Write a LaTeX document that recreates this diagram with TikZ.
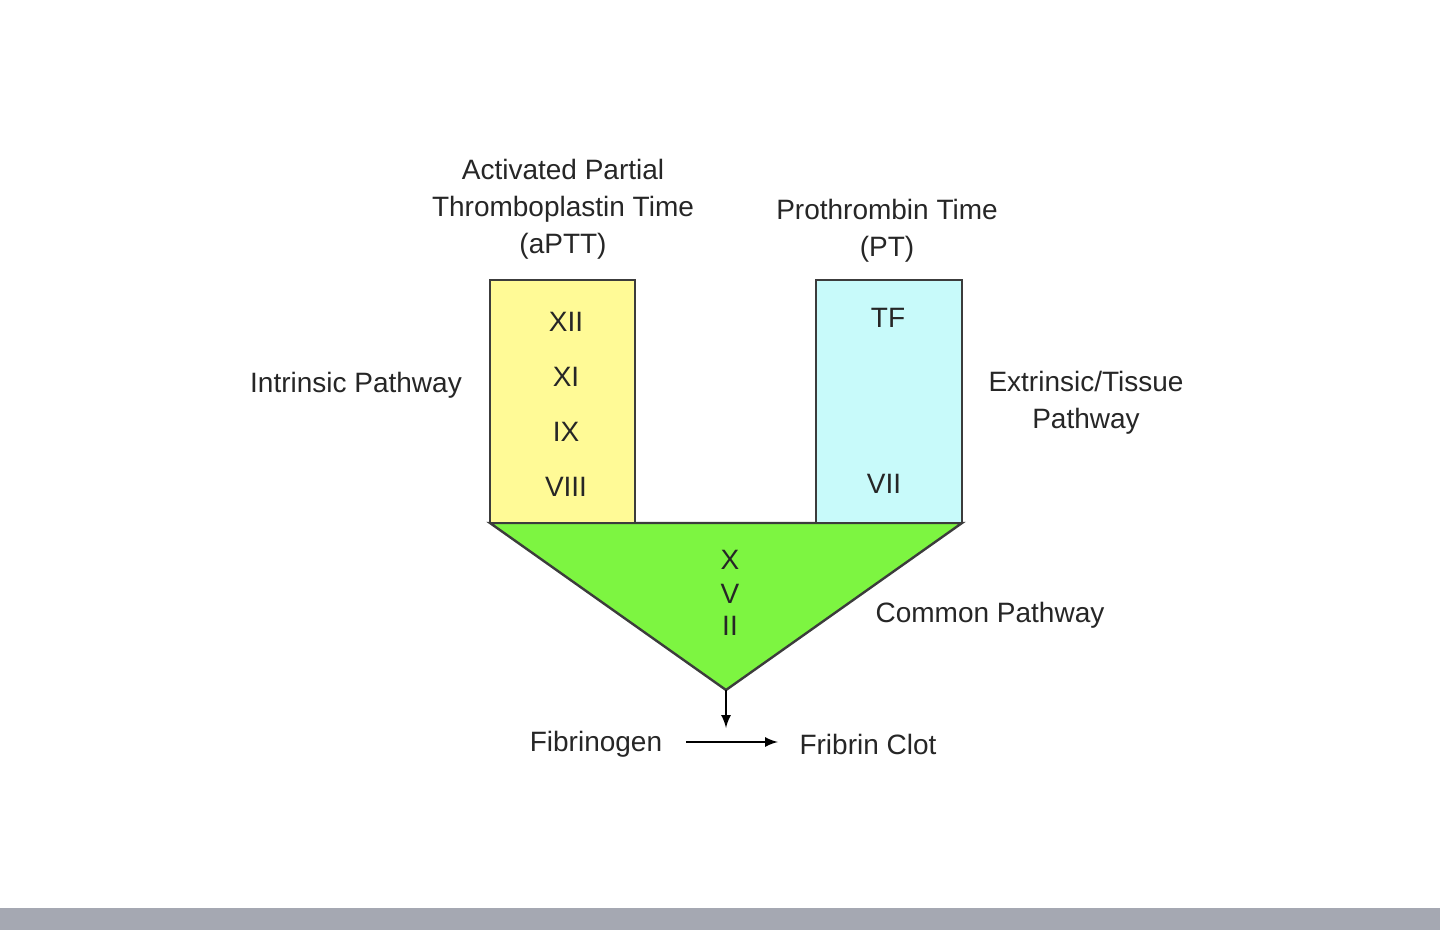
\documentclass[tikz,border=0pt]{standalone}
\usepackage{fontspec}
\setmainfont{Liberation Sans}
\definecolor{yel}{RGB}{255,250,150}
\definecolor{blu}{RGB}{200,250,250}
\definecolor{grn}{RGB}{125,245,65}
\definecolor{edge}{RGB}{60,60,60}
\definecolor{bar}{RGB}{165,168,178}
\begin{document}
\begin{tikzpicture}[x=0.5pt,y=-0.5pt,
  lbl/.style={font=\fontsize{14}{18.5}\selectfont,align=center,text=black!85},
  shp/.style={draw=edge,line width=1.2pt}]
\useasboundingbox (0,0) rectangle (1440,930);
\fill[bar] (0,908) rectangle (1440,930);
\coordinate (tip) at (726,690);
\filldraw[shp,fill=grn] (490,523) -- (962,523) -- (tip) -- cycle;
\filldraw[shp,fill=yel] (490,523) rectangle (635,280);
\filldraw[shp,fill=blu] (816,523) rectangle (962,280);
\draw[shp] (635,523) -- (816,523);
\node[lbl] (aptt) at (563,209) {Activated Partial\\Thromboplastin Time\\(aPTT)};
\node[lbl] (pt) at (887,231) {Prothrombin Time\\(PT)};
\node[lbl] (xii) at (566,322) {XII};
\node[lbl] (xi) at (566,377) {XI};
\node[lbl] (ix) at (566,432) {IX};
\node[lbl] (viii) at (566,487) {VIII};
\node[lbl] (tf) at (888,318) {TF};
\node[lbl] (vii) at (884,484) {VII};
\node[lbl] (intr) at (356,385) {Intrinsic Pathway};
\node[lbl] (extr) at (1086,403) {Extrinsic/Tissue\\Pathway};
\node[lbl] (x) at (730,560) {X};
\node[lbl] (v) at (730,594) {V};
\node[lbl] (ii) at (730,626) {II};
\node[lbl] (comm) at (990,615) {Common Pathway};
\node[lbl] (fib) at (596,744) {Fibrinogen};
\node[lbl] (clot) at (868,744) {Fribrin Clot};
\coordinate (dn) at (726,728);
\draw[-latex,line width=1.2pt] (tip) -- (dn);
\draw[-latex,line width=1.2pt] (686,742) -- (778,742);
\end{tikzpicture}
\end{document}
